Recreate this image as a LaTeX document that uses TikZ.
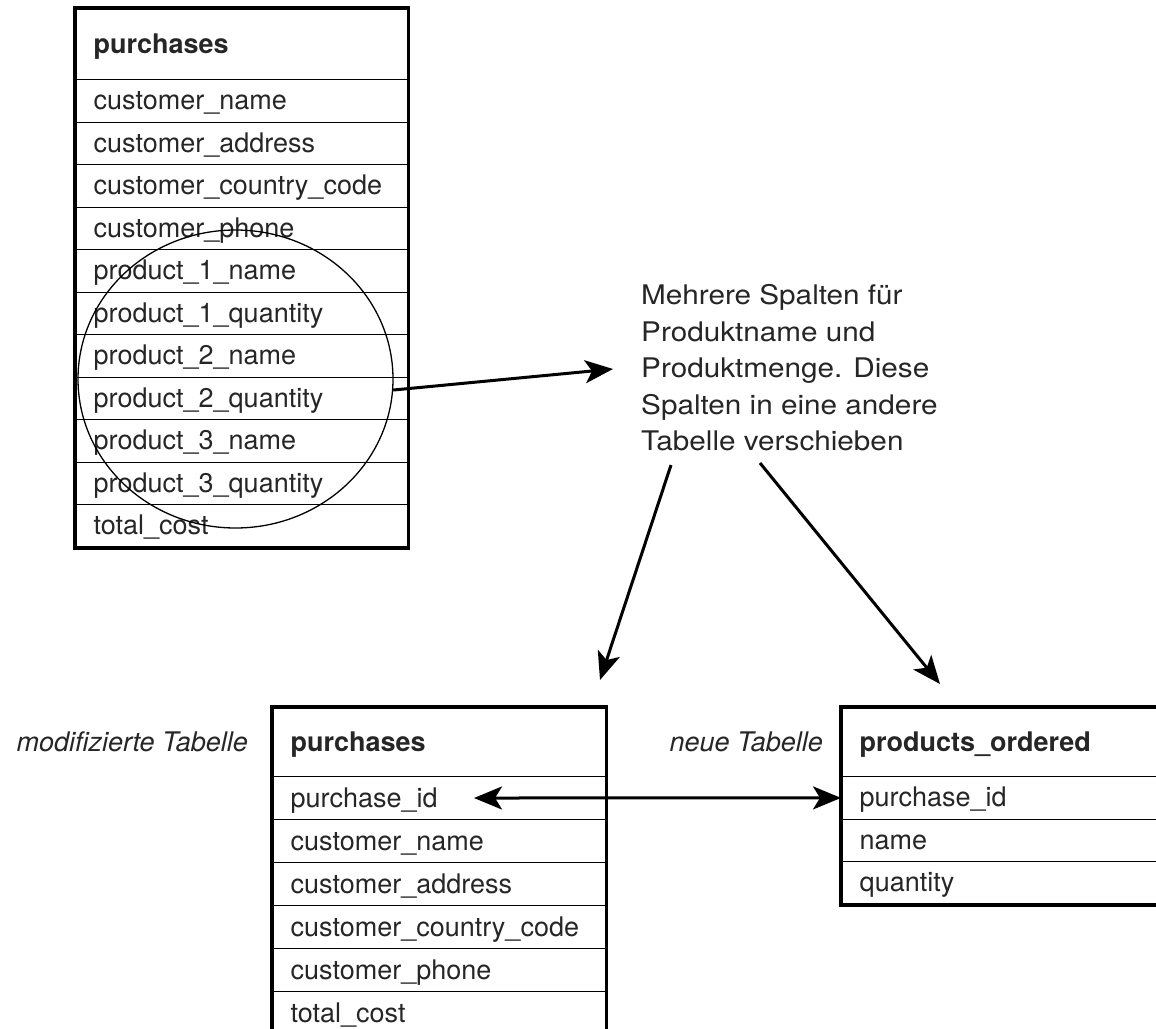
\documentclass[tikz,border=0pt]{standalone}
\usepackage{fontspec}
\setmainfont{TeX Gyre Heros}
\newfontfamily\notefont{TeX Gyre Heros}[FakeStretch=1.1]
\usetikzlibrary{shapes.geometric,arrows.meta}
\begin{document}
\begin{tikzpicture}[x=1pt,y=-1pt,
  txt/.style={font=\fontsize{27}{43}\selectfont, text=black!85},
  cell/.style={txt, draw=black, line width=1.3pt, rectangle, anchor=north west,
    inner xsep=18pt, inner ysep=0pt, text width=#1, align=left,
    text height=19.5pt, text depth=1.5pt},
  hdr/.style={cell=#1, font=\bfseries\fontsize{27}{43}\selectfont},
  frame/.style={draw=black, line width=3.5pt},
  lbl/.style={txt, font=\itshape\fontsize{27}{43}\selectfont, inner sep=0pt,
    text height=19.5pt, text depth=1.5pt},
  arr/.style={line width=3pt, -{Stealth[length=28pt,width=23pt,inset=7pt]}},
  darr/.style={line width=3pt, {Stealth[length=28pt,width=23pt,inset=7pt]}-{Stealth[length=28pt,width=23pt,inset=7pt]}}
]
\clip (0,0) rectangle (1156,1028);
\fill[white] (0,0) rectangle (1156,1028);

% ---- top table ----
\node[hdr=296pt, minimum height=71pt] (t1h) at (75,8) {purchases};
\foreach \t [count=\i] in {customer\_name, customer\_address, customer\_country\_code,
  customer\_phone, product\_1\_name, product\_1\_quantity, product\_2\_name,
  product\_2\_quantity, product\_3\_name, product\_3\_quantity, total\_cost}
  \node[cell=296pt, minimum height=42.5pt] (t1r\i) at (75,{79+42.5*(\i-1)}) {\t};
\draw[frame] (t1h.north west) rectangle (t1r11.south east);

% ---- ellipse ----
\node[draw, ellipse, line width=1.3pt, minimum width=315pt, minimum height=298pt, inner sep=0pt] (circ) at (235.5,379) {};

% ---- note ----
\node[txt, font=\notefont\fontsize{27}{36.5}\selectfont, anchor=north west, inner sep=0pt, align=left] (note) at (641,284.5)
  {Mehrere Spalten für\\Produktname und\\Produktmenge. Diese\\Spalten in eine andere\\Tabelle verschieben};

% ---- bottom left table ----
\node[hdr=297pt, minimum height=69pt] (t2h) at (272,707) {purchases};
\foreach \t [count=\i] in {purchase\_id, customer\_name, customer\_address,
  customer\_country\_code, customer\_phone, total\_cost}
  \node[cell=297pt, minimum height=43pt] (t2r\i) at (272,{776+43*(\i-1)}) {\t};
\draw[frame] (t2h.north west) rectangle (t2r6.south east);
\node[lbl, anchor=east] (lab2) at ([xshift=-24pt]t2h.west) {modifizierte Tabelle};

% ---- bottom right table ----
\node[hdr=304pt, minimum height=69pt] (t3h) at (841,707) {products\_ordered};
\foreach \t [count=\i] in {purchase\_id, name, quantity}
  \node[cell=304pt, minimum height=42.5pt] (t3r\i) at (841,{776+42.5*(\i-1)}) {\t};
\draw[frame] (t3h.north west) rectangle (t3r3.south east);
\node[lbl, anchor=east] (lab3) at ([xshift=-18pt]t3h.west) {neue Tabelle};

% ---- connectors ----
\coordinate (n1) at (613,369);
\coordinate (n2s) at (671,465);
\coordinate (n2e) at (600,680);
\coordinate (n3s) at (760,463);
\coordinate (n3e) at (940,684);
\coordinate (pid) at (474,798);
\draw[arr] (circ.-4) -- (n1);
\draw[arr] (n2s) -- (n2e);
\draw[arr] (n3s) -- (n3e);
\draw[darr] (pid) -- (t3r1.west);
\end{tikzpicture}
\end{document}
